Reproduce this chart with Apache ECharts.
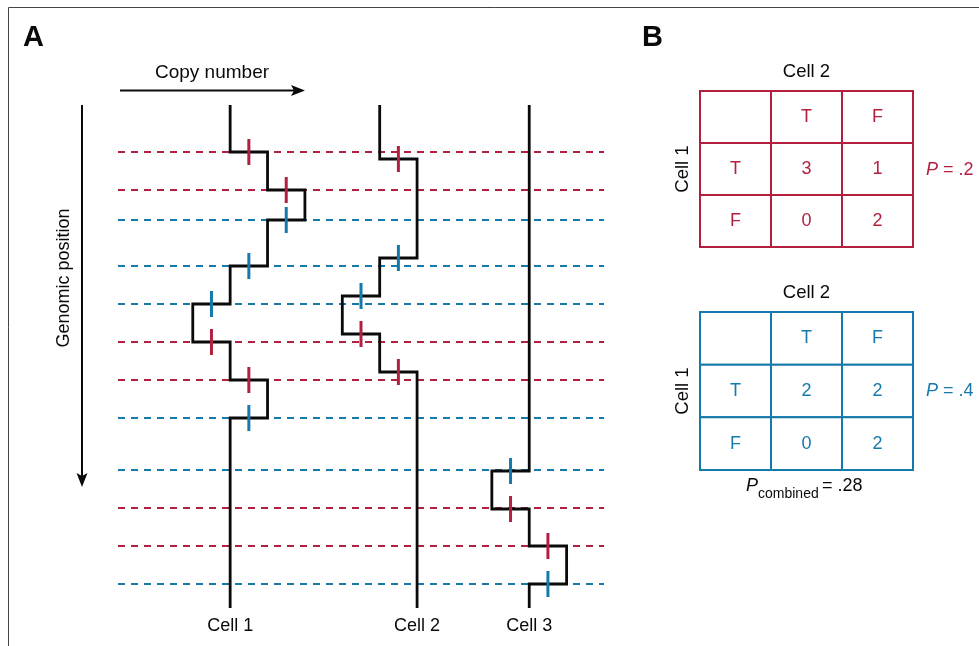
<!DOCTYPE html>
<html>
<head>
<meta charset="utf-8">
<style>
  html, body { margin: 0; padding: 0; background: #fff; }
  #chart { width: 979px; height: 646px; }
</style>
<script src="https://cdn.jsdelivr.net/npm/echarts@6/dist/echarts.min.js"></script>
</head>
<body>
<div id="chart"></div>
<script>
// ---------------- data ----------------
const genomeLength = 503;                 // genomic position extent (arbitrary units)
const copyMin = -1, copyMax = 12;         // copy-number axis extent (cells are offset)
const cellNames = ['Cell 1', 'Cell 2', 'Cell 3'];
const cellOffset = [0, 4, 8];             // horizontal offset of each cell's trace

// dashed breakpoint guide lines: position and colour class (r = red, b = blue)
const guidePos   = [47, 85, 115, 161, 199, 237, 275, 313, 365, 403, 441, 479];
const guideClass = ['r', 'r', 'b', 'b', 'b', 'r', 'r', 'b', 'b', 'r', 'r', 'b'];

// copy-number segments per cell: breakpoints and copy number of each segment
const cell1Breaks = [47, 85, 115, 161, 199, 237, 275, 313];
const cell1CN     = [2, 3, 4, 3, 2, 1, 2, 3, 2];
const cell1Guide  = [0, 1, 2, 3, 4, 5, 6, 7];

const cell2Breaks = [54, 153, 191, 229, 267];
const cell2CN     = [2, 3, 2, 1, 2, 3];
const cell2Guide  = [0, 3, 4, 5, 6];

const cell3Breaks = [366, 404, 441, 479];
const cell3CN     = [2, 1, 2, 3, 2];
const cell3Guide  = [8, 9, 10, 11];

// contingency tables (Cell 1 rows x Cell 2 columns)
const tableHeaders = ['T', 'F'];
const table1Counts = [[3, 1], [0, 2]];
const table2Counts = [[2, 2], [0, 2]];
const table1P = '.2';
const table2P = '.4';
const combinedP = '.28';

// ---------------- styles ----------------
const RED = '#b3203f';
const BLUE = '#1679ab';
const INK = '#0a0a0a';
const FONT = '"Liberation Sans", Arial, Helvetica, sans-serif';
const classColor = { r: RED, b: BLUE };

const cells = [
  { breaks: cell1Breaks, cn: cell1CN, guide: cell1Guide },
  { breaks: cell2Breaks, cn: cell2CN, guide: cell2Guide },
  { breaks: cell3Breaks, cn: cell3CN, guide: cell3Guide }
];

const series = [];

// guide lines
guidePos.forEach((p, i) => {
  series.push({
    type: 'line', xAxisIndex: 0, yAxisIndex: 0, silent: true, symbol: 'none', clip: false, z: 1,
    data: [[copyMin, p], [copyMax, p]],
    lineStyle: { color: classColor[guideClass[i]], width: 2, type: [7, 6], opacity: 1 }
  });
});

// step traces
const tickData = [];
const labelData = [];
cells.forEach((c, ci) => {
  const off = cellOffset[ci];
  const pts = [[c.cn[0] + off, 0]];
  c.breaks.forEach((b, i) => {
    pts.push([c.cn[i] + off, b]);
    pts.push([c.cn[i + 1] + off, b]);
    tickData.push({
      value: [(c.cn[i] + c.cn[i + 1]) / 2 + off, b],
      itemStyle: { color: classColor[guideClass[c.guide[i]]], opacity: 1 }
    });
  });
  const last = c.cn[c.cn.length - 1] + off;
  pts.push([last, genomeLength]);
  labelData.push({ value: [last, genomeLength], name: cellNames[ci] });
  series.push({
    type: 'line', xAxisIndex: 0, yAxisIndex: 0, silent: true, symbol: 'none', clip: false, z: 3,
    data: pts,
    lineStyle: { color: INK, width: 2.8, join: 'miter', cap: 'butt', opacity: 1 }
  });
});

series.push({
  type: 'scatter', xAxisIndex: 0, yAxisIndex: 0, silent: true, clip: false, z: 4,
  symbol: 'rect', symbolSize: [3, 26], itemStyle: { opacity: 1 }, data: tickData
});

series.push({
  type: 'scatter', xAxisIndex: 0, yAxisIndex: 0, silent: true, clip: false, z: 4,
  symbolSize: 1, itemStyle: { color: 'rgba(0,0,0,0)', opacity: 1 },
  data: labelData,
  label: {
    show: true, position: 'bottom', distance: 9, formatter: '{b}',
    color: INK, opacity: 1, fontSize: 18, fontFamily: FONT
  }
});

// tables
function tableLabels(counts) {
  const out = [];
  for (let r = 0; r < 3; r++) {
    for (let col = 0; col < 3; col++) {
      let t;
      if (r === 0) t = col === 0 ? '' : tableHeaders[col - 1];
      else if (col === 0) t = tableHeaders[r - 1];
      else t = String(counts[r - 1][col - 1]);
      out.push({ value: [col, r], text: t });
    }
  }
  return out;
}
function tableSeries(counts, color, idx) {
  const items = tableLabels(counts);
  return {
    type: 'custom', xAxisIndex: idx, yAxisIndex: idx, silent: true, clip: false,
    data: items.map(d => d.value),
    renderItem: function (params, api) {
      const c = api.coord([api.value(0), api.value(1)]);
      const s = api.size([1, 1]);
      return {
        type: 'group',
        children: [
          { type: 'rect', shape: { x: c[0] - s[0] / 2, y: c[1] - s[1] / 2, width: s[0], height: s[1] },
            style: { fill: '#fff', stroke: color, lineWidth: 2 } },
          { type: 'text',
            style: { text: items[params.dataIndex].text, x: c[0], y: c[1], align: 'center', verticalAlign: 'middle',
                     fill: color, fontSize: 18, fontFamily: FONT } }
        ]
      };
    }
  };
}
series.push(tableSeries(table1Counts, RED, 1));
series.push(tableSeries(table2Counts, BLUE, 2));

const catData = ['h'].concat(tableHeaders);
function tableXAxis(idx) {
  return {
    type: 'category', gridIndex: idx, data: catData, position: 'top',
    axisLine: { show: false }, axisTick: { show: false }, axisLabel: { show: false }, splitLine: { show: false },
    name: 'Cell 2', nameLocation: 'middle', nameGap: 10,
    nameTextStyle: { color: INK, fontSize: 18.5, fontFamily: FONT }
  };
}
function tableYAxis(idx) {
  return {
    type: 'category', gridIndex: idx, data: catData, inverse: true,
    axisLine: { show: false }, axisTick: { show: false }, axisLabel: { show: false }, splitLine: { show: false },
    name: 'Cell 1', nameLocation: 'middle', nameGap: 8,
    nameTextStyle: { color: INK, fontSize: 18.5, fontFamily: FONT }
  };
}

const option = {
  backgroundColor: '#fff',
  animation: false,
  grid: [
    { left: 118, top: 105, width: 486, height: 503 },
    { left: 700, top: 91, width: 213, height: 156 },
    { left: 700, top: 312, width: 213, height: 158 }
  ],
  xAxis: [
    { type: 'value', gridIndex: 0, min: copyMin, max: copyMax, show: false },
    tableXAxis(1), tableXAxis(2)
  ],
  yAxis: [
    { type: 'value', gridIndex: 0, min: 0, max: genomeLength, inverse: true, show: false },
    tableYAxis(1), tableYAxis(2)
  ],
  graphic: [
    { type: 'rect', shape: { x: 8.5, y: 7.5, width: 1100, height: 800 }, style: { fill: 'none', stroke: '#444', lineWidth: 1 }, silent: true },
    { type: 'text', x: 23, y: 38, style: { text: 'A', fill: INK, fontSize: 29, fontWeight: 'bold', fontFamily: FONT, verticalAlign: 'middle' } },
    { type: 'text', x: 642, y: 38, style: { text: 'B', fill: INK, fontSize: 29, fontWeight: 'bold', fontFamily: FONT, verticalAlign: 'middle' } },
    // copy-number arrow
    { type: 'text', x: 212, y: 73, style: { text: 'Copy number', fill: INK, fontSize: 19, fontFamily: FONT, align: 'center', verticalAlign: 'middle' } },
    { type: 'line', shape: { x1: 120, y1: 90.5, x2: 296, y2: 90.5 }, style: { stroke: INK, lineWidth: 2 } },
    { type: 'polygon', shape: { points: [[305, 90.5], [291, 85], [294, 90.5], [291, 96]] }, style: { fill: INK } },
    // genomic-position arrow
    { type: 'text', x: 64, y: 278, rotation: Math.PI / 2, style: { text: 'Genomic position', fill: INK, fontSize: 18, fontFamily: FONT, align: 'center', verticalAlign: 'middle' } },
    { type: 'line', shape: { x1: 82, y1: 105, x2: 82, y2: 478 }, style: { stroke: INK, lineWidth: 2 } },
    { type: 'polygon', shape: { points: [[82, 487], [76.5, 473], [82, 476], [87.5, 473]] }, style: { fill: INK } },
    // P values
    { type: 'text', x: 926, y: 170, style: { text: '{i|P}{n| = ' + table1P + '}', fill: RED, verticalAlign: 'middle',
        rich: { i: { fontSize: 18, fontStyle: 'italic', fontFamily: FONT, fill: RED }, n: { fontSize: 18, fontFamily: FONT, fill: RED } } } },
    { type: 'text', x: 926, y: 391, style: { text: '{i|P}{n| = ' + table2P + '}', fill: BLUE, verticalAlign: 'middle',
        rich: { i: { fontSize: 18, fontStyle: 'italic', fontFamily: FONT, fill: BLUE }, n: { fontSize: 18, fontFamily: FONT, fill: BLUE } } } },
    { type: 'text', x: 746, y: 486, style: { text: 'P', fill: INK, fontSize: 18, fontStyle: 'italic', fontFamily: FONT, verticalAlign: 'middle' } },
    { type: 'text', x: 758, y: 494, style: { text: 'combined', fill: INK, fontSize: 14, fontFamily: FONT, verticalAlign: 'middle' } },
    { type: 'text', x: 822, y: 486, style: { text: '= ' + combinedP, fill: INK, fontSize: 18, fontFamily: FONT, verticalAlign: 'middle' } }
  ],
  series: series
};

const chart = echarts.init(document.getElementById('chart'), null, { renderer: 'canvas' });
chart.setOption(option);
</script>
</body>
</html>
